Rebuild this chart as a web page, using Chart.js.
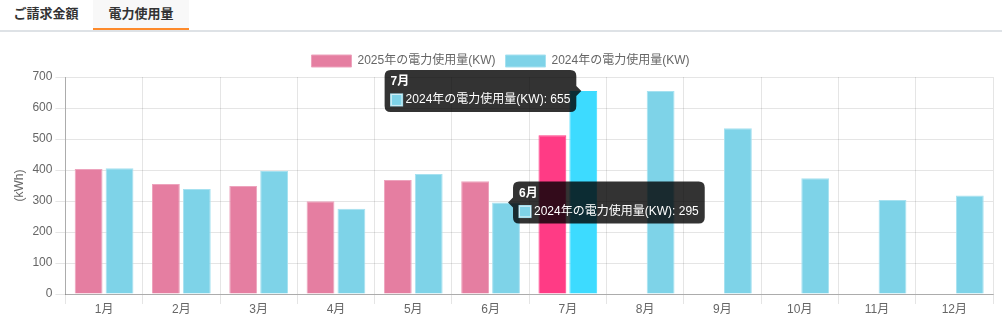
<!DOCTYPE html>
<html lang="ja">
<head>
<meta charset="utf-8">
<title>電力使用量</title>
<script src="https://cdn.jsdelivr.net/npm/chart.js@4/dist/chart.umd.min.js"></script>
<style>
  html, body { margin: 0; padding: 0; background: #fff; }
  body { width: 1002px; height: 325px; overflow: hidden; position: relative;
         font-family: "Helvetica Neue", Helvetica, Arial, "Noto Sans CJK JP", sans-serif; }
  .tabs { position: absolute; left: 0; top: 0; width: 1002px; height: 30px; border-bottom: 2px solid #dee2e6; }
  .tab { position: absolute; top: 0; height: 28px; line-height: 27px; font-size: 13px; font-weight: bold; color: #333; text-align: center; }
  .tab.active { background: #f8f8f8; border-bottom: 2px solid #fd8a2b; }
  .chart-wrap { position: absolute; left: 0; top: 40px; width: 1002px; height: 285px; }
</style>
</head>
<body>
<div class="tabs">
  <div class="tab" style="left:0;width:92px;">ご請求金額</div>
  <div class="tab active" style="left:93px;width:96px;">電力使用量</div>
</div>
<div class="chart-wrap"><canvas id="usageChart"></canvas></div>
<script>
const MONTHS = ["1月", "2月", "3月", "4月", "5月", "6月", "7月", "8月", "9月", "10月", "11月", "12月"];
const USAGE_2025 = [403, 355, 348, 299, 368, 364, 512, null, null, null, null, null];
const USAGE_2024 = [406, 339, 397, 275, 387, 295, 655, 655, 535, 373, 303, 318];
const LABEL_2025 = "2025年の電力使用量(KW)";
const LABEL_2024 = "2024年の電力使用量(KW)";
const Y_TITLE = "(kWh)";

(() => {
  "use strict";

  const $ = (id) => document.getElementById(id);

  Chart.defaults.color = "#666";
  Chart.defaults.font.family = "'Helvetica Neue', 'Helvetica', 'Arial', 'Noto Sans CJK JP', sans-serif";
  Chart.defaults.font.size = 12;

  const COLORS = {
    pink: "#e57ea1",
    pinkEdge: "#eda3bd",
    pinkHover: "#ff3b85",
    blue: "#7ed3e8",
    blueEdge: "#a6e1f0",
    blueHover: "#3ddbff",
    grid: "rgba(0,0,0,0.1)",
    axis: "rgba(0,0,0,0.25)",
  };

  // second tooltip (6月) — same Tooltip class the plugin uses, drawn after the chart
  let extraTip = null;
  const extraTooltip = {
    id: "extraTooltip",
    afterDraw(chart) {
      if (extraTip) extraTip.draw(chart.ctx);
    },
  };

  const chart = new Chart($("usageChart"), {
    type: "bar",
    data: {
      labels: MONTHS,
      datasets: [
        {
          label: LABEL_2025,
          data: USAGE_2025,
          backgroundColor: COLORS.pink,
          borderColor: COLORS.pinkEdge,
          borderWidth: 1,
          hoverBackgroundColor: COLORS.pinkHover,
          hoverBorderColor: COLORS.pinkHover,
        },
        {
          label: LABEL_2024,
          data: USAGE_2024,
          backgroundColor: COLORS.blue,
          borderColor: COLORS.blueEdge,
          borderWidth: 1,
          hoverBackgroundColor: COLORS.blueHover,
          hoverBorderColor: COLORS.blueHover,
        },
      ],
    },
    options: {
      responsive: true,
      maintainAspectRatio: false,
      animation: false,
      events: [],
      layout: { padding: { left: 8, right: 9, top: 5, bottom: 9 } },
      plugins: {
        legend: {
          labels: { boxWidth: 40, boxHeight: 12, padding: 10, color: "#666" },
        },
        tooltip: {
          backgroundColor: "rgba(0,0,0,0.8)",
          titleFont: { weight: "bold", size: 12, lineHeight: 1 },
          bodyFont: { size: 12, lineHeight: 1 },
          titleMarginBottom: 6,
          padding: 6,
          caretSize: 5,
          caretPadding: 2,
          cornerRadius: 6,
          boxPadding: 1,
        },
      },
      scales: {
        x: {
          grid: { color: COLORS.grid, tickLength: 10, offset: true },
          border: { color: COLORS.axis },
          ticks: { padding: 0, font: { lineHeight: 1 } },
        },
        y: {
          min: 0,
          max: 700,
          ticks: { stepSize: 100, padding: 3 },
          grid: { color: COLORS.grid, tickLength: 10 },
          border: { color: COLORS.axis },
          title: { display: true, text: Y_TITLE, color: "#666", font: { size: 12 }, padding: { top: 4, bottom: 3 } },
        },
      },
    },
    plugins: [extraTooltip],
  });

  // 7月: both bars hovered, tooltip on the 2024 bar
  chart.setActiveElements([{ datasetIndex: 0, index: 6 }, { datasetIndex: 1, index: 6 }]);
  chart.tooltip.setActiveElements([{ datasetIndex: 1, index: 6 }], { x: 0, y: 0 });

  // 6月: a second tooltip on the 2024 bar
  const TooltipEl = Chart.Tooltip && Chart.Tooltip._element;
  if (TooltipEl) {
    extraTip = new TooltipEl({ chart, options: chart.tooltip.options });
    extraTip.setActiveElements([{ datasetIndex: 1, index: 5 }], { x: 1, y: 1 });
  }
  chart.update();
})();
</script>
</body>
</html>
